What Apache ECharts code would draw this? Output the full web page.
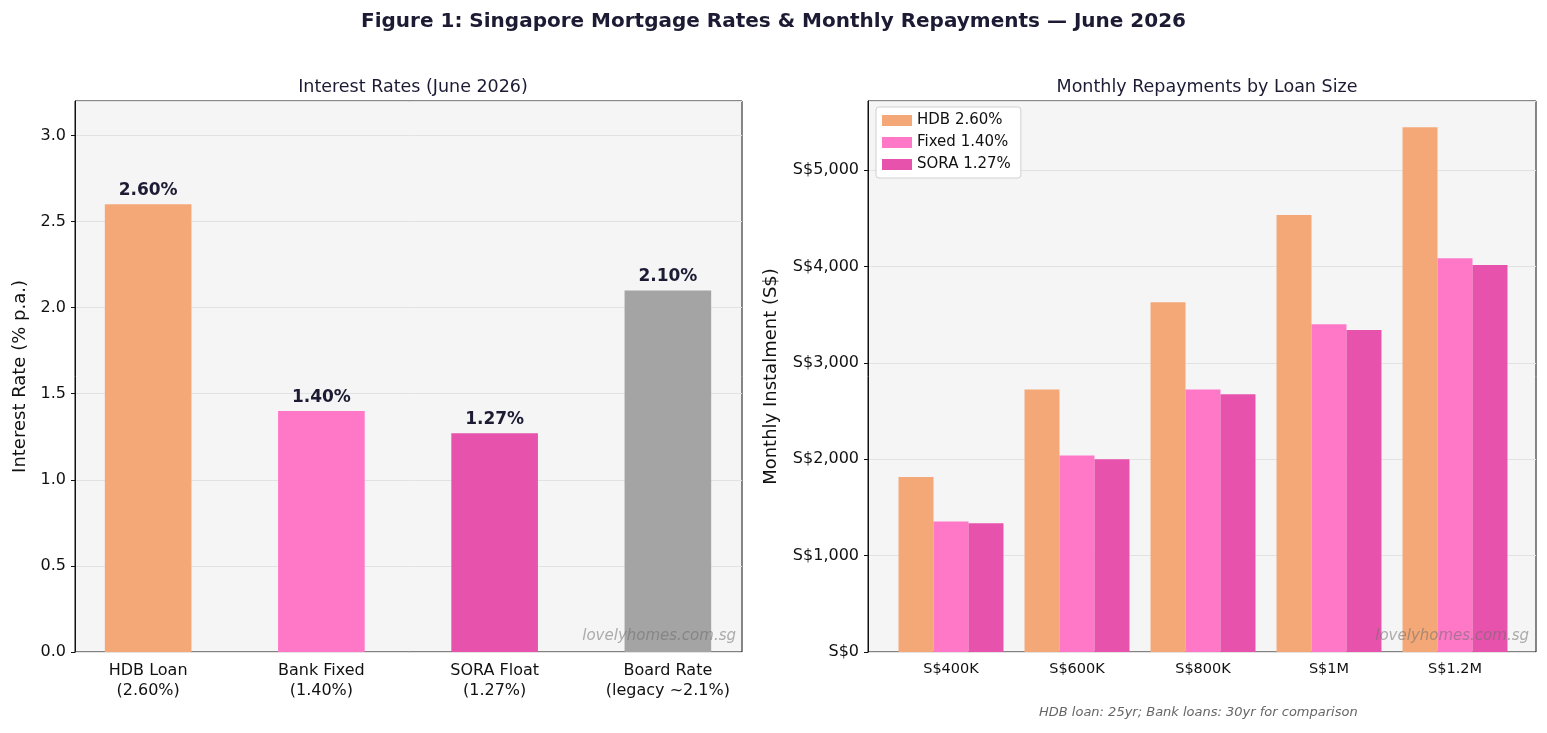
<!DOCTYPE html>
<html lang="en">
<head>
<meta charset="UTF-8">
<title>Singapore Mortgage Rates</title>
<script src="https://cdn.jsdelivr.net/npm/echarts@6/dist/echarts.min.js"></script>
<style>
  html, body { margin: 0; padding: 0; background: #fff; }
  #main { width: 1547px; height: 733px; }
</style>
</head>
<body>
<div id="main"></div>
<script>
// left panel: rate types
var rateLabels = ['HDB Loan\n(2.60%)', 'Bank Fixed\n(1.40%)', 'SORA Float\n(1.27%)', 'Board Rate\n(legacy ~2.1%)'];
var rateValues = [2.60, 1.40, 1.27, 2.10];
var rateColors = ['#F4A877', '#FF78C8', '#E752AC', '#A4A4A4'];

// right panel: monthly repayments
var loanSizes = ['S$400K', 'S$600K', 'S$800K', 'S$1M', 'S$1.2M'];
var hdbPay = [1815, 2725, 3630, 4535, 5445];
var fixedPay = [1355, 2040, 2725, 3400, 4085];
var soraPay = [1335, 2000, 2675, 3340, 4015];
var seriesNames = ['HDB 2.60%', 'Fixed 1.40%', 'SORA 1.27%'];
var seriesColors = ['#F4A877', '#FF78C8', '#E752AC'];

var font = 'DejaVu Sans';
var dark = '#1C1B33';
var payMax = Math.max.apply(null, hdbPay) * 1.05;

var myChart = echarts.init(document.getElementById('main'));

function money(v) {
    return 'S$' + v.toString().replace(/\B(?=(\d{3})+(?!\d))/g, ',');
}

// grids 0/1 = visible frames with the y axes, grids 2/3 = where the bars sit
// (wider/narrower than the frame so categories line up like the original)
var option = {
    textStyle: { fontFamily: font },
    title: [
        { text: 'Figure 1: Singapore Mortgage Rates & Monthly Repayments — June 2026', left: 'center', top: 7,
          textStyle: { fontFamily: font, fontSize: 20, fontWeight: 'bold', color: dark } },
        { text: 'Interest Rates (June 2026)', left: 408, top: 73, textAlign: 'center',
          textStyle: { fontFamily: font, fontSize: 17.5, fontWeight: 'normal', color: dark } },
        { text: 'Monthly Repayments by Loan Size', left: 1202, top: 73, textAlign: 'center',
          textStyle: { fontFamily: font, fontSize: 17.5, fontWeight: 'normal', color: dark } }
    ],
    graphic: [
        { type: 'text', z: 100, right: 1547 - 736, top: 629, style: { text: 'lovelyhomes.com.sg',
          fill: 'rgba(110,110,110,0.55)', font: 'italic 15px "DejaVu Sans"' } },
        { type: 'text', z: 100, right: 1547 - 1529, top: 629, style: { text: 'lovelyhomes.com.sg',
          fill: 'rgba(110,110,110,0.55)', font: 'italic 15px "DejaVu Sans"' } },
        { type: 'text', z: 100, left: 1039, top: 706, style: { text: 'HDB loan: 25yr; Bank loans: 30yr for comparison',
          fill: '#666', font: 'italic 13px "DejaVu Sans"' } }
    ],
    legend: {
        data: seriesNames,
        orient: 'vertical',
        left: 876, top: 107,
        icon: 'rect',
        itemWidth: 30, itemHeight: 11, itemGap: 7,
        backgroundColor: '#fff', borderColor: '#d0d0d0', borderWidth: 1, borderRadius: 3,
        padding: [6, 10, 6, 6],
        textStyle: { fontFamily: font, fontSize: 15, color: '#111' }
    },
    grid: [
        { left: 75, top: 101, width: 667, height: 551, show: true, backgroundColor: '#F5F5F5',
          borderColor: '#111', borderWidth: 1 },
        { left: 868, top: 101, width: 668, height: 551, show: true, backgroundColor: '#F5F5F5',
          borderColor: '#111', borderWidth: 1 },
        { left: 61.5, top: 101, width: 693, height: 551 },
        { left: 888, top: 101, width: 630, height: 551 }
    ],
    xAxis: [
        { type: 'value', gridIndex: 0, show: false },
        { type: 'value', gridIndex: 1, show: false },
        { type: 'category', gridIndex: 2, data: rateLabels,
          axisLine: { show: false },
          axisTick: { alignWithLabel: true, length: 4, lineStyle: { color: '#111' } },
          axisLabel: { color: '#111', fontSize: 16, lineHeight: 20, margin: 9 } },
        { type: 'category', gridIndex: 3, data: loanSizes,
          axisLine: { show: false },
          axisTick: { alignWithLabel: true, length: 4, lineStyle: { color: '#111' } },
          axisLabel: { color: '#111', fontSize: 14.5, margin: 10 } }
    ],
    yAxis: [
        { type: 'value', gridIndex: 0, min: 0, max: 3.2, interval: 0.5,
          name: 'Interest Rate (% p.a.)', nameLocation: 'middle', nameGap: 46,
          nameTextStyle: { fontSize: 18, color: '#111' },
          axisLine: { show: true, lineStyle: { color: '#111' } },
          axisTick: { show: true, length: 4, lineStyle: { color: '#111' } },
          axisLabel: { color: '#111', fontSize: 16, margin: 9, showMaxLabel: false,
                       formatter: function (v) { return v.toFixed(1); } },
          splitLine: { lineStyle: { color: '#E2E2E2' } } },
        { type: 'value', gridIndex: 1, min: 0, max: payMax, interval: 1000,
          name: 'Monthly Instalment (S$)', nameLocation: 'middle', nameGap: 88,
          nameTextStyle: { fontSize: 18, color: '#111' },
          axisLine: { show: true, lineStyle: { color: '#111' } },
          axisTick: { show: true, length: 4, lineStyle: { color: '#111' } },
          axisLabel: { color: '#111', fontSize: 16, margin: 9, showMaxLabel: false, formatter: money },
          splitLine: { lineStyle: { color: '#E2E2E2' } } },
        { type: 'value', gridIndex: 2, min: 0, max: 3.2, show: false, splitLine: { show: false } },
        { type: 'value', gridIndex: 3, min: 0, max: payMax, show: false, splitLine: { show: false } }
    ],
    series: [
        { type: 'bar', xAxisIndex: 2, yAxisIndex: 2, barWidth: '50%',
          data: rateValues.map(function (v, i) { return { value: v, itemStyle: { color: rateColors[i] } }; }),
          label: { show: true, position: 'top', distance: 5, color: dark, fontSize: 17, fontWeight: 'bold',
                   formatter: function (p) { return p.value.toFixed(2) + '%'; } } },
        { name: seriesNames[0], type: 'bar', xAxisIndex: 3, yAxisIndex: 3, data: hdbPay,
          itemStyle: { color: seriesColors[0] }, barGap: '0%', barCategoryGap: '16.7%' },
        { name: seriesNames[1], type: 'bar', xAxisIndex: 3, yAxisIndex: 3, data: fixedPay,
          itemStyle: { color: seriesColors[1] }, barGap: '0%', barCategoryGap: '16.7%' },
        { name: seriesNames[2], type: 'bar', xAxisIndex: 3, yAxisIndex: 3, data: soraPay,
          itemStyle: { color: seriesColors[2] }, barGap: '0%', barCategoryGap: '16.7%' }
    ]
};

myChart.setOption(option);
</script>
</body>
</html>
